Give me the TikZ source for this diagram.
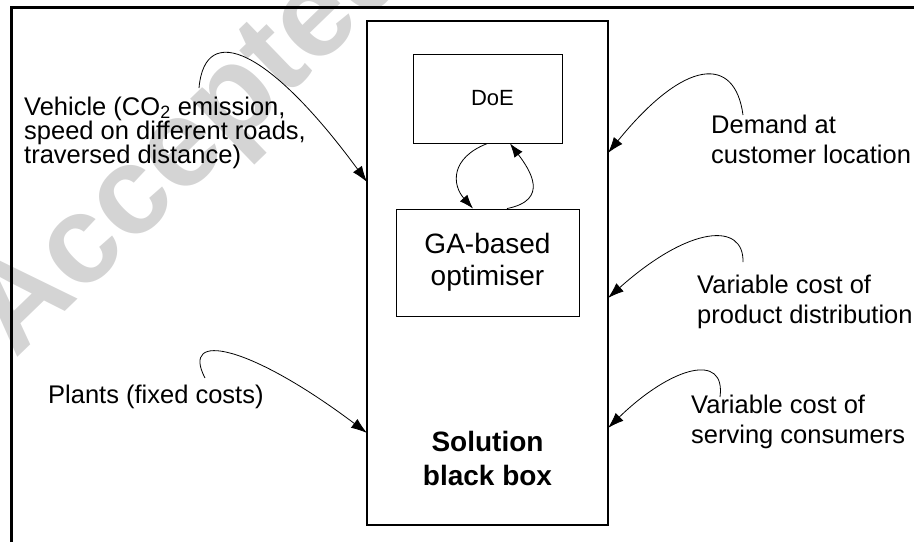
\documentclass[tikz,border=0pt]{standalone}
\usepackage{fontspec}
\setmainfont{Liberation Sans}
\usetikzlibrary{arrows.meta}

\begin{document}
\begin{tikzpicture}[x=1pt,y=-1pt,
  lbl/.style={font=\fontsize{25.5}{29.5}\selectfont, align=left, anchor=base west, inner sep=0pt},
  inbox/.style={draw, line width=0.9pt, align=center, inner sep=0pt},
  conn/.style={line width=0.8pt, -{Latex[length=16pt,width=11pt]}},
  loopconn/.style={line width=0.8pt, -{Latex[length=14pt,width=10pt]}},
  wmark/.style={font=\bfseries\fontsize{125}{125}\selectfont, text=black!17, rotate=44, anchor=base west, inner sep=0pt}]

\useasboundingbox (0,0) rectangle (914,542);

% faint stamp behind the drawing
\node[wmark] (stamp) at (15,360) {Accepted};

% frame: only its top and left edges fall inside the page
\draw[line width=3pt] (11.5,542) -- (11.5,7) -- (914,7);

% the solution black box and its two inner blocks
\node[draw, line width=2.5pt, minimum width=241pt, minimum height=504pt] (bb) at (487.5,273) {};
\node[inbox, minimum width=149pt, minimum height=89pt,
      label={[font=\fontsize{22}{26}\selectfont, xshift=5pt]center:DoE}] (doe) at (487.5,98.5) {};
\node[inbox, minimum width=183pt, minimum height=107pt, font=\fontsize{28}{31.7}\selectfont] (ga) at (487.5,262.5) {GA-based\\optimiser};
% multi-line nodes: the base anchor sits on the last line
\node[font=\bfseries\fontsize{28}{34}\selectfont, align=center, anchor=base, inner sep=0pt] (sol) at (487.5,485.7) {Solution\\black box};

% input labels
\node[lbl, font=\fontsize{25.5}{24}\selectfont] (veh) at (24,163) {Vehicle (CO\textsubscript{2} emission,\\speed on different roads,\\traversed distance)};
\node[lbl] (dem) at (711,163) {Demand at\\customer location};
\node[lbl] (pd) at (697,323) {Variable cost of\\product distribution};
\node[lbl] (sc) at (691,443) {Variable cost of\\serving consumers};
\node[lbl] (pl) at (48,403) {Plants (fixed costs)};

% arrow ends
\coordinate (vehS) at (199,88);
\coordinate (vehT) at (367,182);
\coordinate (demS) at (743,115);
\coordinate (demT) at (608,153);
\coordinate (pdS) at (743,262);
\coordinate (pdT) at (608,298);
\coordinate (scS) at (720,397);
\coordinate (scT) at (608,428);
\coordinate (plS) at (205,378);
\coordinate (plT) at (367,433);

% inputs into the black box
\draw[conn] (vehS) .. controls (205,20) and (270,50) .. (vehT);
\draw[conn] (demS) .. controls (735,55) and (685,58) .. (demT);
\draw[conn] (pdS) .. controls (744,222) and (690,225) .. (pdT);
\draw[conn] (scS) .. controls (726,352) and (672,366) .. (scT);
\draw[conn] (plS) .. controls (180,330) and (250,345) .. (plT);

% DoE <-> optimiser loop
\draw[loopconn] (doe.south) .. controls (450,158) and (452,185) .. ([xshift=-14.5pt]ga.north);
\draw[loopconn] ([xshift=19.5pt]ga.north) .. controls (550,200) and (530,170) .. ([xshift=22.5pt]doe.south);
\end{tikzpicture}
\end{document}
